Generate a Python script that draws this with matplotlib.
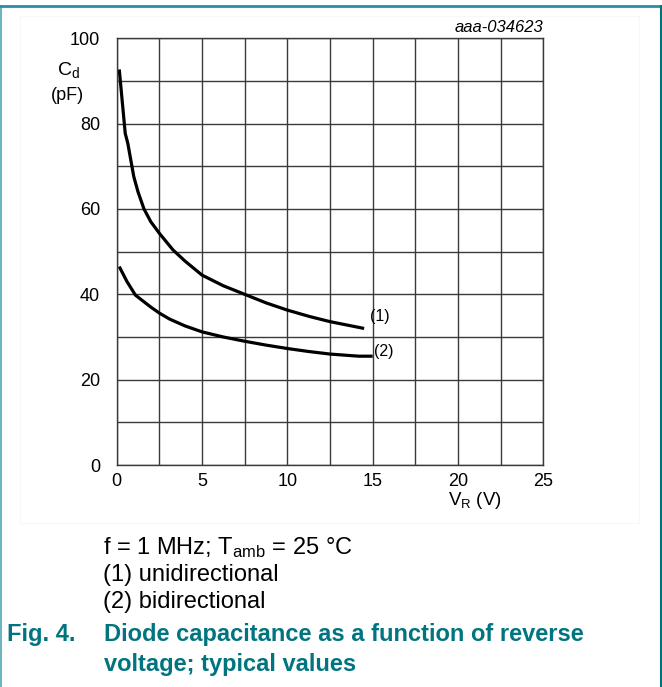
import matplotlib
matplotlib.use("Agg")
import matplotlib.pyplot as plt
from matplotlib.patches import Rectangle
from matplotlib.lines import Line2D

plt.rcParams['font.family'] = ['Liberation Sans', 'DejaVu Sans']
plt.rcParams['mathtext.fontset'] = 'custom'
plt.rcParams['mathtext.rm'] = 'Liberation Sans'
plt.rcParams['mathtext.it'] = 'Liberation Sans:italic'

# curve (1) unidirectional
v_uni = [0.15, 0.5, 0.65, 1.0, 1.25, 1.6, 2.0, 2.5, 3.3, 4.0, 5.0, 6.25, 7.5, 8.75, 10.0, 11.3, 12.5, 13.5, 14.5]
c_uni = [92.7, 77.7, 75.4, 67.6, 64.0, 60.0, 57.0, 54.3, 50.4, 47.8, 44.5, 42.0, 40.0, 38.0, 36.3, 34.8, 33.6, 32.8, 32.0]
# curve (2) bidirectional
v_bi = [0.15, 0.6, 1.1, 2.0, 2.5, 3.1, 4.0, 5.0, 6.25, 7.5, 8.75, 10.0, 11.25, 12.5, 13.5, 14.2, 15.0]
c_bi = [46.5, 43.0, 39.8, 37.0, 35.6, 34.2, 32.6, 31.2, 30.0, 29.0, 28.1, 27.3, 26.6, 26.0, 25.7, 25.5, 25.5]

x_ticks = [0, 5, 10, 15, 20, 25]
y_ticks = [0, 20, 40, 60, 80, 100]
curve_labels = ["(1)", "(2)"]

W, H = 662, 687
teal = "#007580"
border = "#2a8e9b"

fig = plt.figure(figsize=(W / 100, H / 100), dpi=100)

def fx(px):
    return px / W

def fy(py):
    return 1 - py / H

# frame around the figure (no bottom edge)
fig.add_artist(Line2D([fx(0.5), fx(0.5)], [0, fy(6)], color="#6fb5bf", lw=1.5))
fig.add_artist(Line2D([fx(0.5), fx(661)], [fy(6), fy(6)], color=border, lw=2))
fig.add_artist(Line2D([fx(660.5), fx(660.5)], [0, fy(6)], color=teal, lw=1.5))
fig.add_artist(Rectangle((fx(20), fy(523)), fx(639) - fx(20), fy(16) - fy(523),
                         fill=False, edgecolor="#f8f8f8", lw=0.8))

ax = fig.add_axes([fx(116.7), fy(465), fx(543.3) - fx(116.7), fy(38.3) - fy(465)])
ax.set_xlim(0, 25)
ax.set_ylim(0, 100)

ax.set_xticks(x_ticks)
ax.set_yticks(y_ticks)
ax.set_xticks([2.5 + 5 * i for i in range(5)], minor=True)
ax.set_yticks([10 + 20 * i for i in range(5)], minor=True)
ax.grid(True, which="both", color="#3a3a3a", lw=1.0)
ax.tick_params(which="both", length=0, labelsize=13)
ax.tick_params(axis="y", pad=12)
ax.tick_params(axis="x", pad=6)
ax.set_xticklabels([str(t) for t in x_ticks])
ax.set_yticklabels([str(t) for t in y_ticks])
for s in ax.spines.values():
    s.set_color("#3a3a3a")
    s.set_linewidth(1.0)

ax.plot(v_uni, c_uni, color="black", lw=2.3, solid_capstyle="butt")
ax.plot(v_bi, c_bi, color="black", lw=2.3, solid_capstyle="butt")

ax.text(v_uni[-1] + 0.35, c_uni[-1] + 2.8, curve_labels[0], fontsize=11.5, va="center", ha="left")
ax.text(v_bi[-1] + 0.05, c_bi[-1] + 1.0, curve_labels[1], fontsize=11.5, va="center", ha="left")

# axis labels
fig.text(fx(69), fy(70), r"C$_\mathregular{d}$", fontsize=14, ha="center", va="center")
fig.text(fx(67), fy(96), "(pF)", fontsize=13, ha="center", va="center")
fig.text(fx(475), fy(490), r"V$_\mathregular{R}$ (V)", fontsize=13.5, ha="center", va="top")
fig.text(fx(543), fy(27), "aaa-034623", fontsize=12, style="italic", ha="right", va="center")

# notes
fig.text(fx(103), fy(548), r"f = 1 MHz; T$_\mathregular{amb}$ = 25 °C", fontsize=17, ha="left", va="center")
fig.text(fx(103), fy(575), "(1) unidirectional", fontsize=17, ha="left", va="center")
fig.text(fx(103), fy(602), "(2) bidirectional", fontsize=17, ha="left", va="center")

# caption
fig.text(fx(7), fy(635), "Fig. 4.", fontsize=17, weight="bold", color=teal, ha="left", va="center")
fig.text(fx(104), fy(635), "Diode capacitance as a function of reverse", fontsize=17,
         weight="bold", color=teal, ha="left", va="center")
fig.text(fx(104), fy(664), "voltage; typical values", fontsize=17, weight="bold",
         color=teal, ha="left", va="center")

fig.savefig("out.png", dpi=100)
